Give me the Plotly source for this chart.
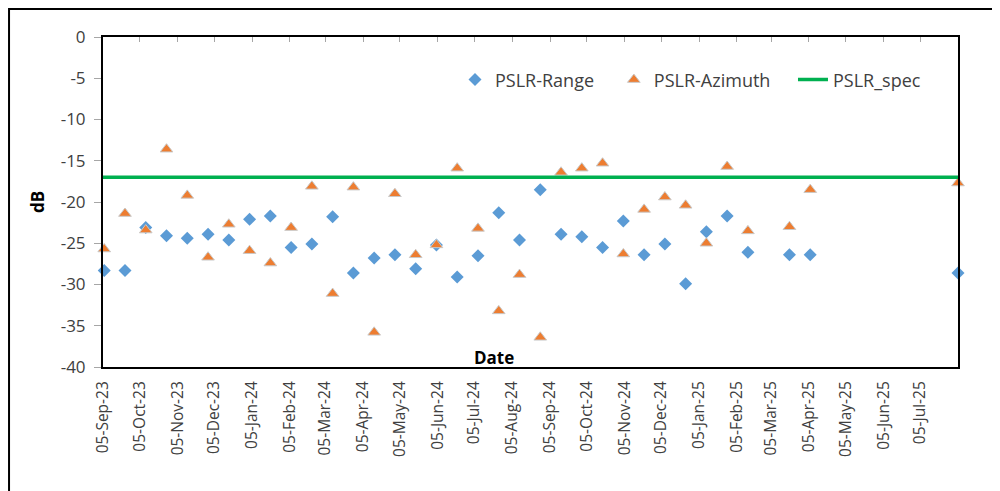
import plotly.graph_objects as go

dates = ['2023-09-06', '2023-09-23', '2023-10-10', '2023-10-27', '2023-11-13', '2023-11-30',
         '2023-12-17', '2024-01-03', '2024-01-20', '2024-02-06', '2024-02-23', '2024-03-11',
         '2024-03-28', '2024-04-14', '2024-05-01', '2024-05-18', '2024-06-04', '2024-06-21',
         '2024-07-08', '2024-07-25', '2024-08-11', '2024-08-28', '2024-09-14', '2024-10-01',
         '2024-10-18', '2024-11-04', '2024-11-21', '2024-12-08', '2024-12-25', '2025-01-11',
         '2025-01-28', '2025-02-14', '2025-03-20', '2025-04-06', '2025-08-05']

pslr_range = [-28.3, -28.3, -23.1, -24.1, -24.4, -23.9, -24.6, -22.1, -21.7, -25.5, -25.1, -21.8,
              -28.6, -26.8, -26.4, -28.1, -25.2, -29.1, -26.5, -21.3, -24.6, -18.5, -23.9, -24.2,
              -25.5, -22.3, -26.4, -25.1, -29.9, -23.6, -21.7, -26.1, -26.4, -26.4, -28.6]

pslr_azimuth = [-25.7, -21.4, -23.4, -13.6, -19.2, -26.7, -22.7, -25.9, -27.4, -23.1, -18.1, -31.1,
                -18.2, -35.8, -19.0, -26.4, -25.2, -15.9, -23.2, -33.2, -28.8, -36.4, -16.4, -15.9,
                -15.3, -26.3, -20.9, -19.4, -20.4, -25.0, -15.7, -23.5, -23.0, -18.5, -17.7]

spec_dates = ['2023-09-05', '2025-08-05']
spec_values = [-17, -17]

x_tick_dates = ['2023-09-05', '2023-10-05', '2023-11-05', '2023-12-05', '2024-01-05', '2024-02-05',
                '2024-03-05', '2024-04-05', '2024-05-05', '2024-06-05', '2024-07-05', '2024-08-05',
                '2024-09-05', '2024-10-05', '2024-11-05', '2024-12-05', '2025-01-05', '2025-02-05',
                '2025-03-05', '2025-04-05', '2025-05-05', '2025-06-05', '2025-07-05']
x_tick_labels = ['05-Sep-23', '05-Oct-23', '05-Nov-23', '05-Dec-23', '05-Jan-24', '05-Feb-24',
                 '05-Mar-24', '05-Apr-24', '05-May-24', '05-Jun-24', '05-Jul-24', '05-Aug-24',
                 '05-Sep-24', '05-Oct-24', '05-Nov-24', '05-Dec-24', '05-Jan-25', '05-Feb-25',
                 '05-Mar-25', '05-Apr-25', '05-May-25', '05-Jun-25', '05-Jul-25']
y_tick_vals = [0, -5, -10, -15, -20, -25, -30, -35, -40]
y_tick_labels = ['0', '-5', '-10', '-15', '-20', '-25', '-30', '-35', '-40']

FONT = 'Open Sans'
TXT = '#404040'

fig = go.Figure()
fig.add_trace(go.Scatter(
    x=dates, y=pslr_range, mode='markers', name='PSLR-Range', legend='legend',
    marker=dict(symbol='diamond', size=10, color='#5B9BD5', line=dict(width=0)),
    cliponaxis=False))
fig.add_trace(go.Scatter(
    x=dates, y=pslr_azimuth, mode='markers', name='PSLR-Azimuth', legend='legend2',
    marker=dict(symbol='triangle-up', size=11, color='#ED7D31', line=dict(width=1, color='#C9C9C9')),
    cliponaxis=False))
fig.add_trace(go.Scatter(
    x=spec_dates, y=spec_values, mode='lines', name='PSLR_spec', legend='legend3',
    line=dict(color='#00B050', width=3.5)))
# invisible helper trace for the top tick axis
fig.add_trace(go.Scatter(x=spec_dates, y=spec_values, xaxis='x2', mode='lines',
                         line=dict(width=0), showlegend=False, hoverinfo='skip'))

legend_common = dict(orientation='h', yanchor='middle', y=0.87, xanchor='left',
                     bgcolor='rgba(0,0,0,0)', font=dict(family=FONT, size=18, color=TXT))

# page body adds an 8px offset: plot area is placed at x 103-958, y 37-367 on screen
fig.update_layout(
    width=992, height=483,
    margin=dict(l=95, r=42, t=29, b=124),
    paper_bgcolor='white', plot_bgcolor='white',
    font=dict(family=FONT, color=TXT),
    legend=dict(x=0.4117, **legend_common),
    legend2=dict(x=0.5975, **legend_common),
    legend3=dict(x=0.8070, **legend_common),
    xaxis=dict(type='date', range=['2023-09-05', '2025-08-05'],
               tickvals=x_tick_dates, ticktext=x_tick_labels, tickangle=-90,
               tickfont=dict(family=FONT, size=15.5, color=TXT),
               ticks='', showline=True, linecolor='black', linewidth=2, mirror=True,
               showgrid=False, zeroline=False, ticklabelstandoff=6),
    xaxis2=dict(type='date', overlaying='x', matches='x', side='top', anchor='y',
                tickvals=x_tick_dates, ticks='inside', ticklen=5, tickcolor='#A6A6A6',
                showticklabels=False, showline=False, showgrid=False, zeroline=False),
    yaxis=dict(range=[-40, 0], tickvals=y_tick_vals, ticktext=y_tick_labels,
               tickfont=dict(family=FONT, size=17, color=TXT),
               ticks='outside', ticklen=7, tickcolor='#A6A6A6',
               showline=True, linecolor='black', linewidth=2, mirror=True,
               showgrid=False, zeroline=False, ticklabelstandoff=5,
               title=dict(text='<b>dB</b>', font=dict(family=FONT, size=17, color='black'), standoff=12)),
    shapes=[dict(type='rect', xref='paper', yref='paper',
                 x0=-0.1099, x1=1.0433, y0=-0.45, y1=1.0848,
                 line=dict(color='black', width=2), fillcolor='rgba(0,0,0,0)', layer='below')],
    annotations=[dict(text='<b>Date</b>', xref='paper', yref='paper', x=0.4573, y=0.03,
                      xanchor='center', yanchor='middle', showarrow=False,
                      font=dict(family=FONT, size=17, color='black'))],
)

fig.write_html('out.html')
